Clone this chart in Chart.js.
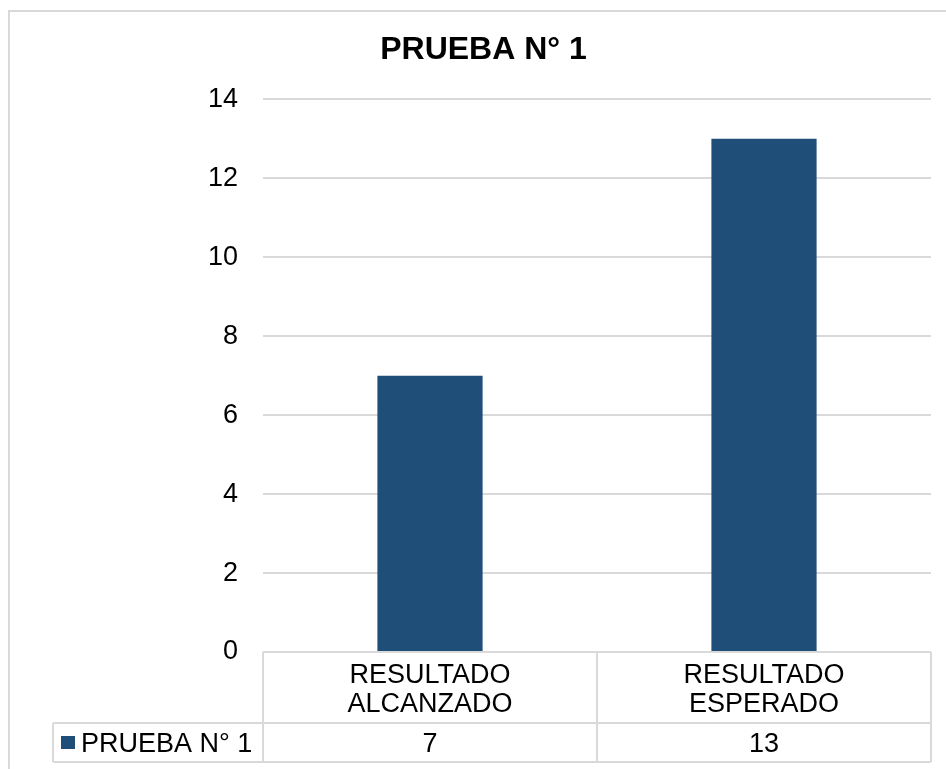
<!DOCTYPE html>
<html>
<head>
<meta charset="utf-8">
<title>PRUEBA N° 1</title>
<script src="https://cdn.jsdelivr.net/npm/chart.js@4.4.1/dist/chart.umd.min.js"></script>
<style>
  html, body { margin: 0; padding: 0; background: #ffffff; }
  #chart { display: block; }
</style>
</head>
<body>
<canvas id="chart" width="946" height="769"></canvas>
<script>
// chart data
const categories = [['RESULTADO', 'ALCANZADO'], ['RESULTADO', 'ESPERADO']];
const seriesName = 'PRUEBA N° 1';
const values = [7, 13];
const yMax = 14;
const yStep = 2;

const barColor = '#1f4e79';
const lineColor = '#d9d9d9';
const textColor = '#000000';
const fontFamily = '"Liberation Sans", Arial, sans-serif';

// outer frame around the whole chart
const framePlugin = {
    id: 'frame',
    beforeDraw(chart) {
        const c = chart.ctx;
        c.save();
        c.fillStyle = '#ffffff';
        c.fillRect(0, 0, chart.width, chart.height);
        c.strokeStyle = lineColor;
        c.lineWidth = 2;
        c.strokeRect(9, 11, chart.width + 10, chart.height + 10);
        c.restore();
    }
};

// data table under the x axis: category row, value row and legend key
const dataTablePlugin = {
    id: 'dataTable',
    afterDraw(chart) {
        const c = chart.ctx;
        const x = chart.scales.x;
        const area = chart.chartArea;
        const top = x.top;
        const mid = x.bottom;
        const rowH = 39;
        const bottom = mid + rowH;
        const legendLeft = 53;

        // column edges
        const edges = [area.left];
        for (let i = 0; i < values.length - 1; i++) {
            edges.push((x.getPixelForTick(i) + x.getPixelForTick(i + 1)) / 2);
        }
        edges.push(area.right);

        c.save();
        c.strokeStyle = lineColor;
        c.lineWidth = 2;
        c.beginPath();
        c.moveTo(area.left, top); c.lineTo(area.right, top);
        c.moveTo(legendLeft, mid); c.lineTo(area.right, mid);
        c.moveTo(legendLeft, bottom); c.lineTo(area.right, bottom);
        c.moveTo(legendLeft, mid); c.lineTo(legendLeft, bottom);
        edges.forEach(e => { c.moveTo(e, top); c.lineTo(e, bottom); });
        c.stroke();

        // values
        c.fillStyle = textColor;
        c.font = '27px ' + fontFamily;
        c.textAlign = 'center';
        c.textBaseline = 'middle';
        values.forEach((v, i) => {
            c.fillText(String(v), x.getPixelForTick(i), mid + rowH / 2 + 2);
        });

        // legend key
        c.fillStyle = barColor;
        c.fillRect(61, mid + 13, 14, 13);
        c.fillStyle = textColor;
        c.textAlign = 'left';
        c.fillText(seriesName, 81, mid + rowH / 2 + 2);
        c.restore();
    }
};

const ctx = document.getElementById('chart').getContext('2d');
new Chart(ctx, {
    type: 'bar',
    data: {
        labels: categories,
        datasets: [{
            label: seriesName,
            data: values,
            backgroundColor: barColor,
            borderWidth: 0,
            categoryPercentage: 1,
            barPercentage: 0.315
        }]
    },
    options: {
        responsive: false,
        animation: false,
        layout: {
            padding: { left: 36, top: 0, right: 15, bottom: 46 }
        },
        plugins: {
            legend: { display: false },
            tooltip: { enabled: false },
            title: {
                display: true,
                text: 'PRUEBA N° 1',
                color: textColor,
                font: { family: fontFamily, size: 32, weight: 'bold' },
                padding: { top: 31, bottom: 30 }
            }
        },
        scales: {
            x: {
                grid: { display: false },
                border: { display: false },
                ticks: {
                    color: textColor,
                    font: { family: fontFamily, size: 27, lineHeight: 1.08 },
                    padding: 1,
                    maxRotation: 0,
                    autoSkip: false
                },
                afterFit(scale) { scale.height = 71; }
            },
            y: {
                min: 0,
                max: yMax,
                grid: { color: lineColor, lineWidth: 2, drawTicks: false },
                border: { display: false },
                ticks: {
                    stepSize: yStep,
                    color: textColor,
                    font: { family: fontFamily, size: 27 },
                    padding: 25
                },
                afterFit(scale) { scale.width = 227; }
            }
        }
    },
    plugins: [framePlugin, dataTablePlugin]
});
</script>
</body>
</html>
